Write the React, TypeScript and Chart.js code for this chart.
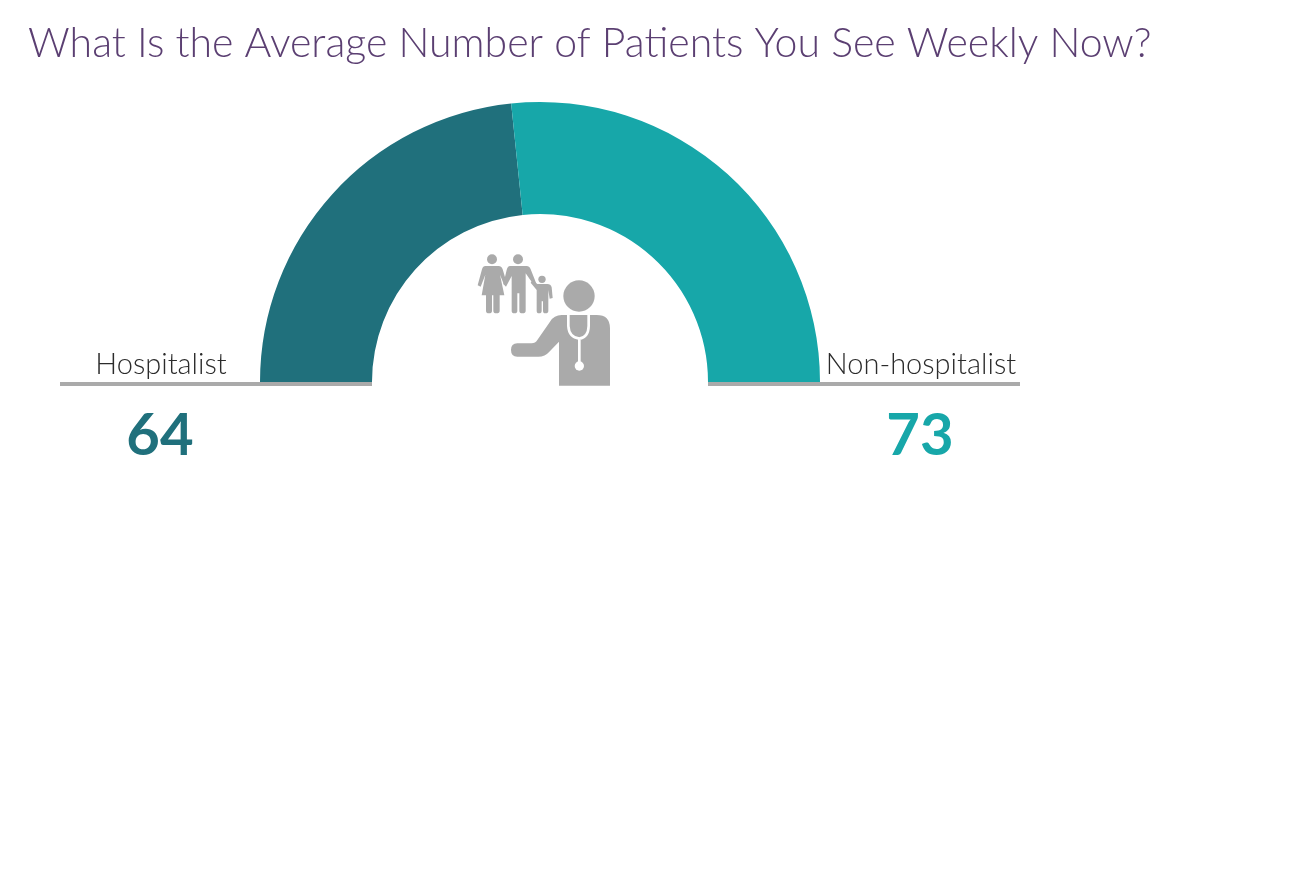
import React, { useEffect, useRef } from "react";
import { Chart, registerables } from "chart.js";

Chart.register(...registerables);

const titleText = "What Is the Average Number of Patients You See Weekly Now?";
const categories = ["Hospitalist", "Non-hospitalist"];
const patientValues = [64, 73];
const segmentColors = ["#20707C", "#17A7A9"];
const TITLE_COLOR = "#5B3F72";
const LABEL_COLOR = "#2B2B2B";
const GRAY = "#AAAAAA";
const FONT = "Lato, 'Open Sans', sans-serif";

function drawIcon(ctx: CanvasRenderingContext2D) {
  ctx.save();
  ctx.translate(460, 240);
  ctx.scale(1 / 3, 1 / 3);
  ctx.fillStyle = GRAY;
  const circles = [[357, 168, 47], [96, 58, 15], [174, 58, 15], [246, 118, 11]];
  for (const [x, y, r] of circles) {
    ctx.beginPath();
    ctx.arc(x, y, r, 0, Math.PI * 2);
    ctx.fill();
  }
  const shapes = [
    "M450 437 L450 265 Q450 225 410 225 L305 225 Q282 225 270 245 L232 300 Q226 310 215 310 L172 310 Q153 310 153 330 Q153 350 172 350 L235 350 Q255 350 268 335 L297 305 L297 437 Z",
    "M76 78 L116 78 Q124 78 128 88 L140 128 L132 134 L120 104 L133 166 L119 166 L119 212 Q119 220 109 220 Q100 220 100 212 L100 166 L96 166 L96 212 Q96 220 87 220 Q78 220 78 212 L78 166 L65 166 L76 104 L62 140 L53 136 L66 88 Q69 78 76 78 Z",
    "M150 78 L200 78 Q208 78 212 88 L228 128 L222 136 L197 100 L197 212 Q197 220 187 220 Q178 220 178 212 L178 160 L172 160 L172 212 Q172 220 163 220 Q155 220 155 212 L155 108 L138 140 L130 132 L140 90 Q143 78 150 78 Z",
    "M232 132 L262 132 Q272 132 275 142 L278 174 L269 176 L265 150 L265 212 Q265 220 256 220 Q249 220 249 212 L249 184 L245 184 L245 212 Q245 220 237 220 Q230 220 230 212 L230 150 L212 128 L218 120 Z",
  ];
  for (const s of shapes) ctx.fill(new Path2D(s));
  ctx.strokeStyle = "#FFFFFF";
  ctx.lineWidth = 8;
  ctx.stroke(new Path2D("M325 225 L325 258 Q327 292 358 296 Q385 292 386 258 L386 225 M358 296 L358 370"));
  ctx.fillStyle = "#FFFFFF";
  ctx.beginPath();
  ctx.arc(358, 378, 14, 0, Math.PI * 2);
  ctx.fill();
  ctx.restore();
}

const overlayPlugin = {
  id: "overlay",
  afterDatasetsDraw(chart: Chart) {
    const ctx = chart.ctx;
    const arc = chart.getDatasetMeta(0).data[0] as any;
    const cx = arc.x;
    const cy = arc.y;
    const inner = arc.innerRadius;
    ctx.save();
    ctx.fillStyle = GRAY;
    ctx.fillRect(60, cy, cx - inner - 60, 4);
    ctx.fillRect(cx + inner, cy, 1020 - cx - inner, 4);
    drawIcon(ctx);
    ctx.textBaseline = "alphabetic";
    ctx.textAlign = "left";
    ctx.fillStyle = TITLE_COLOR;
    ctx.font = `300 41px ${FONT}`;
    ctx.fillText(titleText, 28, 57);
    ctx.textAlign = "center";
    const centers = [160, 920];
    const labelCenters = [161, 921];
    categories.forEach((name, i) => {
      ctx.fillStyle = LABEL_COLOR;
      ctx.font = `300 29px ${FONT}`;
      ctx.fillText(name, labelCenters[i], 374);
      ctx.fillStyle = segmentColors[i];
      ctx.font = `700 58px ${FONT}`;
      ctx.fillText(String(patientValues[i]), centers[i], 455);
    });
    ctx.restore();
  },
};

export default function App() {
  const ref = useRef<HTMLCanvasElement>(null);
  useEffect(() => {
    document.body.style.margin = "0";
    const chart = new Chart(ref.current!, {
      type: "doughnut",
      data: {
        labels: categories,
        datasets: [{ data: patientValues, backgroundColor: segmentColors, borderWidth: 0 }],
      },
      options: {
        animation: false,
        responsive: false,
        rotation: -90,
        circumference: 180,
        cutout: "60%",
        layout: { padding: { left: 260, right: 470, top: 102, bottom: 496 } },
        plugins: { legend: { display: false }, title: { display: false }, tooltip: { enabled: false } },
      },
      plugins: [overlayPlugin],
    });
    return () => chart.destroy();
  }, []);
  return <canvas ref={ref} width={1290} height={878} style={{ display: "block" }} />;
}
